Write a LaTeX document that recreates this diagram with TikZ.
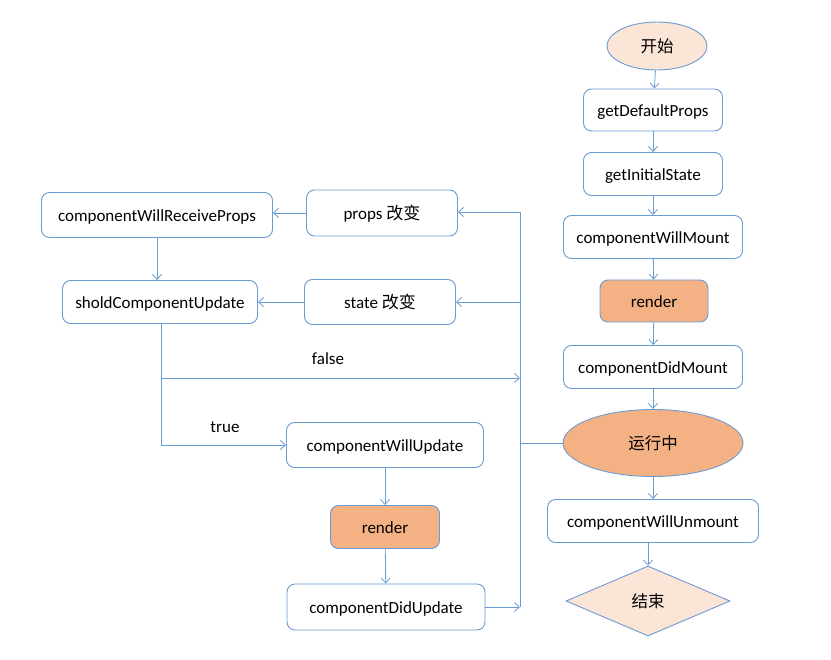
\documentclass[tikz,border=0pt]{standalone}
\usepackage{fontspec}
\setmainfont{Carlito}
\newfontfamily\cjk{Noto Sans CJK SC}
\usetikzlibrary{shapes.geometric,arrows.meta}
\definecolor{lineblue}{HTML}{6A9BD3}
\definecolor{peach}{HTML}{FBE5D6}
\definecolor{orangefill}{HTML}{F4B183}
\tikzset{
  box/.style={draw=lineblue, line width=0.9pt, rounded corners=8pt, fill=white, inner sep=0pt, text height=13pt, text depth=0pt, font=\fontsize{17}{20}\selectfont},
  hot/.style={box, fill=orangefill},
  oval/.style={ellipse, draw=lineblue, line width=0.9pt, inner sep=0pt, text height=13pt, text depth=0pt, font=\fontsize{16.5}{19}\selectfont},
  dia/.style={diamond, draw=lineblue, line width=0.9pt, fill=peach, inner sep=0pt, aspect=2.3, text height=13pt, text depth=0pt, font=\fontsize{16.5}{19}\selectfont},
  conn/.style={draw=lineblue, line width=0.8pt},
  arr/.style={conn, -{Straight Barb[length=5pt, width=9pt]}},
  lbl/.style={font=\fontsize{17}{20}\selectfont}
}
\begin{document}
\begin{tikzpicture}[x=1pt, y=-1pt]
\useasboundingbox (0,0) rectangle (831,660);
% right column
\node[oval, fill=peach, minimum width=100pt, minimum height=48pt] (start) at (657,46) {\cjk 开始};
\node[box, minimum width=139pt, minimum height=42pt] (gdp) at (653,110) {getDefaultProps};
\node[box, minimum width=139pt, minimum height=43pt] (gis) at (653,174) {getInitialState};
\node[box, minimum width=179pt, minimum height=43pt] (cwm) at (653,237) {componentWillMount};
\node[hot, minimum width=108pt, minimum height=42pt] (r1) at (654,301) {render};
\node[box, minimum width=179pt, minimum height=43pt] (cdm) at (653,367) {componentDidMount};
\node[oval, fill=orangefill, minimum width=180pt, minimum height=67pt] (run) at (653,443) {\cjk 运行中};
\node[box, minimum width=211pt, minimum height=43pt] (cwu2) at (653,521) {componentWillUnmount};
\node[dia, minimum width=164pt, minimum height=70pt] (end) at (648,601) {\cjk 结束};
% left part
\node[box, minimum width=231pt, minimum height=45pt] (cwrp) at (157,215) {componentWillReceiveProps};
\node[box, minimum width=151pt, minimum height=46pt] (pc) at (382,213) {props {\cjk 改变}};
\node[box, minimum width=195pt, minimum height=43pt] (scu) at (160,302) {sholdComponentUpdate};
\node[box, minimum width=151pt, minimum height=45pt] (sc) at (380,302) {state {\cjk 改变}};
\node[box, minimum width=197pt, minimum height=45pt] (cwup) at (385,445) {componentWillUpdate};
\node[hot, minimum width=109pt, minimum height=43pt] (r2) at (385,527) {render};
\node[box, minimum width=198pt, minimum height=46pt] (cdu) at (386,607) {componentDidUpdate};
% bus coordinates
\coordinate (bt) at (520,212);
\coordinate (bs) at (520,302);
\coordinate (bf) at (520,378);
\coordinate (br) at (520,443);
\coordinate (bb) at (520,607);
\coordinate (sf) at (161,378);
\coordinate (st) at (161,445);
% right column arrows
\draw[arr] (start) -- (gdp);
\draw[arr] (gdp) -- (gis);
\draw[arr] (gis) -- (cwm);
\draw[arr] (cwm) -- (r1);
\draw[arr] (r1) -- (cdm);
\draw[arr] (cdm) -- (run);
\draw[arr] (run) -- (cwu2);
\draw[arr] (cwu2.south -| end.north) -- (end.north);
% bus
\draw[conn] (bt) -- (bb);
\draw[conn] (run.west) -- (br);
\draw[arr] (bt) -- (pc.east |- bt);
\draw[arr] (bs) -- (sc.east);
\draw[arr] (pc.west) -- (cwrp.east |- pc.west);
\draw[arr] (sc.west) -- (scu.east);
\draw[arr] (cwrp.south) -- (cwrp.south |- scu.north);
\draw[conn] (scu.south -| sf) -- (st);
\draw[arr] (st) -- (cwup.west);
\draw[arr] (sf) -- (bf);
\draw[arr] (cwup) -- (r2);
\draw[arr] (r2) -- (cdu);
\draw[arr] (cdu.east) -- (bb);
\node[lbl] (lf) at (328,359) {false};
\node[lbl] (lt) at (225,427) {true};
\end{tikzpicture}
\end{document}
